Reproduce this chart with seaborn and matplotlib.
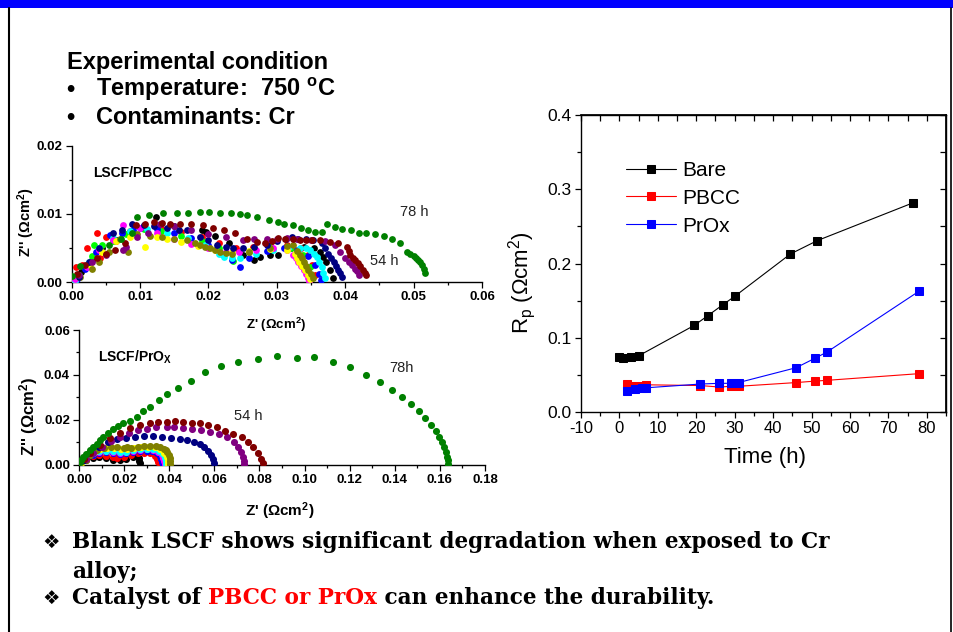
import matplotlib
matplotlib.use("Agg")
import matplotlib.pyplot as plt
import seaborn as sns
import numpy as np
from matplotlib.lines import Line2D
from matplotlib.patches import Rectangle
from matplotlib.ticker import MultipleLocator

# ---------------- Rp vs time ----------------
bare_time = [0, 1, 3, 5, 19.5, 23, 27, 30, 44.5, 51.5, 76.5]
bare_rp = [0.075, 0.073, 0.074, 0.076, 0.117, 0.130, 0.145, 0.156, 0.213, 0.231, 0.282]
coat_time = [2, 4, 6, 7, 21, 26, 29, 31, 46, 51, 54, 78]
pbcc_rp = [0.038, 0.035, 0.036, 0.037, 0.036, 0.034, 0.035, 0.035, 0.040, 0.042, 0.043, 0.052]
prox_rp = [0.028, 0.032, 0.033, 0.033, 0.038, 0.039, 0.039, 0.040, 0.060, 0.073, 0.081, 0.163]
rp_series = ["Bare", "PBCC", "PrOx"]
rp_xticks = [-10, 0, 10, 20, 30, 40, 50, 60, 70, 80]
rp_yticks = [0.0, 0.1, 0.2, 0.3, 0.4]

# ---------------- Nyquist spectra, LSCF/PBCC (Z', Z'') ----------------
pbcc_01 = [(0.0002, 0.0003), (0.0014, 0.0015), (0.0029, 0.0033), (0.0045, 0.0050), (0.0065, 0.0062),
           (0.0085, 0.0073), (0.0105, 0.0082), (0.0124, 0.0096), (0.0150, 0.0083), (0.0190, 0.0077),
           (0.0197, 0.0074), (0.0210, 0.0068), (0.0230, 0.0058), (0.0250, 0.0040), (0.0266, 0.0033),
           (0.0275, 0.0037), (0.0290, 0.0040), (0.0302, 0.0040), (0.0320, 0.0050), (0.0340, 0.0052),
           (0.0355, 0.0050), (0.0363, 0.0045), (0.0368, 0.0037), (0.0372, 0.0029), (0.0378, 0.0018),
           (0.0382, 0.0007)]
pbcc_02 = [(0.0001, 0.0002), (0.0007, 0.0023), (0.0015, 0.0025), (0.0023, 0.0050), (0.0037, 0.0072),
           (0.0041, 0.0035), (0.0050, 0.0066), (0.0065, 0.0060), (0.0085, 0.0075), (0.0105, 0.0082),
           (0.0130, 0.0080), (0.0160, 0.0074), (0.0190, 0.0066), (0.0215, 0.0058), (0.0240, 0.0050),
           (0.0265, 0.0052), (0.0290, 0.0055), (0.0315, 0.0055), (0.0335, 0.0050), (0.0345, 0.0040),
           (0.0352, 0.0025), (0.0356, 0.0010)]
pbcc_03 = [(0.0010, 0.0010), (0.0030, 0.0038), (0.0032, 0.0055), (0.0045, 0.0055), (0.0060, 0.0060),
           (0.0080, 0.0070), (0.0105, 0.0078), (0.0130, 0.0075), (0.0160, 0.0068), (0.0190, 0.0060),
           (0.0215, 0.0050), (0.0236, 0.0031), (0.0260, 0.0045), (0.0290, 0.0052), (0.0320, 0.0050),
           (0.0338, 0.0040), (0.0348, 0.0022), (0.0352, 0.0006)]
pbcc_04 = [(0.0008, 0.0005), (0.0020, 0.0020), (0.0035, 0.0045), (0.0056, 0.0069), (0.0073, 0.0072),
           (0.0090, 0.0076), (0.0100, 0.0080), (0.0125, 0.0078), (0.0150, 0.0072), (0.0175, 0.0065),
           (0.0200, 0.0055), (0.0220, 0.0042), (0.0235, 0.0032), (0.0246, 0.0023), (0.0260, 0.0036),
           (0.0285, 0.0046), (0.0310, 0.0050), (0.0330, 0.0048), (0.0345, 0.0038), (0.0356, 0.0025),
           (0.0362, 0.0012), (0.0365, 0.0003)]
pbcc_05 = [(0.0005, 0.0002), (0.0025, 0.0030), (0.0040, 0.0050), (0.0060, 0.0065), (0.0085, 0.0075),
           (0.0110, 0.0078), (0.0140, 0.0072), (0.0170, 0.0065), (0.0195, 0.0055), (0.0215, 0.0042),
           (0.0222, 0.0037), (0.0235, 0.0035), (0.0246, 0.0035), (0.0270, 0.0042), (0.0295, 0.0048),
           (0.0318, 0.0052), (0.0334, 0.0050), (0.0342, 0.0050), (0.0349, 0.0047), (0.0354, 0.0042),
           (0.0358, 0.0037), (0.0362, 0.0030), (0.0366, 0.0023), (0.0368, 0.0014), (0.0370, 0.0006)]
pbcc_06 = [(0.0005, 0.0005), (0.0022, 0.0022), (0.0040, 0.0048), (0.0060, 0.0062), (0.0075, 0.0084),
           (0.0100, 0.0080), (0.0125, 0.0072), (0.0150, 0.0063), (0.0175, 0.0056), (0.0200, 0.0050),
           (0.0225, 0.0045), (0.0245, 0.0044), (0.0270, 0.0047), (0.0295, 0.0050), (0.0315, 0.0048),
           (0.0324, 0.0040), (0.0328, 0.0035), (0.0331, 0.0030), (0.0335, 0.0024), (0.0339, 0.0018),
           (0.0342, 0.0012), (0.0345, 0.0007), (0.0347, 0.0002)]
pbcc_07 = [(0.0010, 0.0008), (0.0027, 0.0025), (0.0045, 0.0045), (0.0065, 0.0060), (0.0085, 0.0066),
           (0.0107, 0.0052), (0.0125, 0.0066), (0.0139, 0.0064), (0.0160, 0.0059), (0.0185, 0.0053),
           (0.0210, 0.0048), (0.0235, 0.0044), (0.0260, 0.0046), (0.0290, 0.0049), (0.0315, 0.0047),
           (0.0326, 0.0041), (0.0330, 0.0036), (0.0333, 0.0030), (0.0337, 0.0024), (0.0341, 0.0018),
           (0.0345, 0.0011), (0.0348, 0.0005)]
pbcc_08 = [(0.0012, 0.0008), (0.0029, 0.0020), (0.0040, 0.0030), (0.0055, 0.0045), (0.0070, 0.0063),
           (0.0083, 0.0045), (0.0095, 0.0070), (0.0115, 0.0068), (0.0132, 0.0066), (0.0149, 0.0064),
           (0.0168, 0.0062), (0.0180, 0.0058), (0.0188, 0.0055), (0.0195, 0.0052), (0.0202, 0.0050),
           (0.0210, 0.0047), (0.0217, 0.0045), (0.0225, 0.0043), (0.0234, 0.0042), (0.0260, 0.0045),
           (0.0290, 0.0050), (0.0315, 0.0053), (0.0324, 0.0055), (0.0330, 0.0046), (0.0334, 0.0040),
           (0.0337, 0.0035), (0.0339, 0.0030), (0.0343, 0.0024), (0.0346, 0.0018), (0.0350, 0.0012),
           (0.0353, 0.0007)]
pbcc_09 = [(0.0010, 0.0008), (0.0025, 0.0030), (0.0040, 0.0050), (0.0061, 0.0072), (0.0073, 0.0077),
           (0.0088, 0.0085), (0.0105, 0.0084), (0.0120, 0.0082), (0.0139, 0.0079), (0.0157, 0.0076),
           (0.0168, 0.0077), (0.0188, 0.0067), (0.0200, 0.0062), (0.0212, 0.0055), (0.0225, 0.0052),
           (0.0236, 0.0050), (0.0250, 0.0050), (0.0266, 0.0052), (0.0285, 0.0055), (0.0300, 0.0060),
           (0.0314, 0.0064), (0.0322, 0.0067), (0.0331, 0.0064), (0.0342, 0.0063), (0.0353, 0.0062),
           (0.0366, 0.0057), (0.0371, 0.0050), (0.0375, 0.0042), (0.0379, 0.0036), (0.0383, 0.0030),
           (0.0387, 0.0024), (0.0390, 0.0018), (0.0393, 0.0013), (0.0395, 0.0008)]
pbcc_10 = [(0.0010, 0.0010), (0.0030, 0.0030), (0.0050, 0.0040), (0.0075, 0.0048), (0.0080, 0.0052),
           (0.0095, 0.0067), (0.0112, 0.0072), (0.0129, 0.0086), (0.0150, 0.0082), (0.0175, 0.0077),
           (0.0200, 0.0071), (0.0225, 0.0066), (0.0250, 0.0062), (0.0266, 0.0063), (0.0285, 0.0064),
           (0.0300, 0.0064), (0.0315, 0.0065), (0.0330, 0.0064), (0.0350, 0.0062), (0.0370, 0.0060),
           (0.0385, 0.0055), (0.0392, 0.0045), (0.0400, 0.0035), (0.0405, 0.0030), (0.0410, 0.0025),
           (0.0414, 0.0020), (0.0417, 0.0016), (0.0420, 0.0010)]
pbcc_54h = [(0.0008, 0.0012), (0.0020, 0.0025), (0.0037, 0.0035), (0.0050, 0.0042), (0.0063, 0.0048),
            (0.0078, 0.0058), (0.0094, 0.0084), (0.0107, 0.0086), (0.0120, 0.0088), (0.0132, 0.0087),
            (0.0144, 0.0086), (0.0158, 0.0086), (0.0175, 0.0085), (0.0192, 0.0084), (0.0207, 0.0079),
            (0.0222, 0.0077), (0.0239, 0.0072), (0.0256, 0.0064), (0.0271, 0.0059), (0.0283, 0.0057),
            (0.0293, 0.0060), (0.0302, 0.0065), (0.0312, 0.0063), (0.0324, 0.0063), (0.0334, 0.0062),
            (0.0343, 0.0062), (0.0351, 0.0062), (0.0363, 0.0062), (0.0378, 0.0059), (0.0390, 0.0057),
            (0.0402, 0.0052), (0.0405, 0.0046), (0.0407, 0.0040), (0.0411, 0.0036), (0.0414, 0.0033),
            (0.0418, 0.0028), (0.0422, 0.0024), (0.0426, 0.0018), (0.0429, 0.0013), (0.0431, 0.0010)]
pbcc_78h = [(0.0001, 0.0009), (0.0012, 0.0024), (0.0054, 0.0055), (0.0072, 0.0063), (0.0088, 0.0072),
            (0.0095, 0.0095), (0.0113, 0.0098), (0.0133, 0.0101), (0.0154, 0.0102), (0.0170, 0.0102),
            (0.0187, 0.0103), (0.0201, 0.0103), (0.0217, 0.0102), (0.0233, 0.0101), (0.0246, 0.0100),
            (0.0256, 0.0098), (0.0271, 0.0096), (0.0289, 0.0091), (0.0301, 0.0088), (0.0311, 0.0086),
            (0.0323, 0.0084), (0.0335, 0.0079), (0.0346, 0.0076), (0.0356, 0.0074), (0.0366, 0.0073),
            (0.0374, 0.0085), (0.0385, 0.0081), (0.0396, 0.0078), (0.0408, 0.0077), (0.0420, 0.0072),
            (0.0431, 0.0072), (0.0444, 0.0070), (0.0457, 0.0068), (0.0469, 0.0063), (0.0480, 0.0057),
            (0.0490, 0.0045), (0.0495, 0.0042), (0.0500, 0.0039), (0.0504, 0.0036), (0.0507, 0.0033),
            (0.0510, 0.0029), (0.0512, 0.0025), (0.0515, 0.0019), (0.0517, 0.0014)]

# ---------------- Nyquist spectra, LSCF/PrOx (Z', Z'') ----------------
prox_01 = [(0.0005, 0.0003), (0.0030, 0.0020), (0.0060, 0.0032), (0.0090, 0.0035), (0.0120, 0.0030),
           (0.0150, 0.0022), (0.0180, 0.0020), (0.0210, 0.0025), (0.0240, 0.0035), (0.0258, 0.0040),
           (0.0265, 0.0030), (0.0268, 0.0018), (0.0270, 0.0008)]
prox_02 = [(0.0005, 0.0004), (0.0030, 0.0025), (0.0060, 0.0037), (0.0090, 0.0042), (0.0120, 0.0040),
           (0.0150, 0.0033), (0.0170, 0.0028), (0.0200, 0.0033), (0.0230, 0.0042), (0.0260, 0.0050),
           (0.0290, 0.0053), (0.0315, 0.0050), (0.0335, 0.0040), (0.0345, 0.0025), (0.0350, 0.0010)]
prox_03 = [(0.0005, 0.0005), (0.0030, 0.0030), (0.0060, 0.0045), (0.0090, 0.0052), (0.0120, 0.0055),
           (0.0150, 0.0052), (0.0180, 0.0048), (0.0210, 0.0050), (0.0240, 0.0056), (0.0270, 0.0060),
           (0.0300, 0.0062), (0.0325, 0.0060), (0.0345, 0.0052), (0.0358, 0.0040), (0.0365, 0.0025),
           (0.0370, 0.0010), (0.0372, 0.0003)]
prox_04 = [(0.0005, 0.0006), (0.0030, 0.0033), (0.0060, 0.0050), (0.0090, 0.0058), (0.0120, 0.0060),
           (0.0150, 0.0057), (0.0180, 0.0053), (0.0210, 0.0055), (0.0240, 0.0061), (0.0270, 0.0066),
           (0.0300, 0.0068), (0.0330, 0.0066), (0.0352, 0.0058), (0.0366, 0.0045), (0.0374, 0.0030),
           (0.0379, 0.0015), (0.0381, 0.0003)]
prox_05 = [(0.0005, 0.0006), (0.0030, 0.0035), (0.0060, 0.0052), (0.0090, 0.0060), (0.0120, 0.0062),
           (0.0150, 0.0059), (0.0180, 0.0055), (0.0210, 0.0058), (0.0240, 0.0064), (0.0270, 0.0069),
           (0.0300, 0.0071), (0.0330, 0.0069), (0.0356, 0.0060), (0.0371, 0.0047), (0.0380, 0.0031),
           (0.0385, 0.0015), (0.0387, 0.0003)]
prox_06 = [(0.0008, 0.0008), (0.0035, 0.0038), (0.0065, 0.0058), (0.0095, 0.0070), (0.0125, 0.0074),
           (0.0155, 0.0073), (0.0185, 0.0070), (0.0215, 0.0071), (0.0245, 0.0076), (0.0275, 0.0080),
           (0.0305, 0.0081), (0.0335, 0.0078), (0.0360, 0.0070), (0.0377, 0.0054), (0.0388, 0.0035),
           (0.0394, 0.0016), (0.0396, 0.0003)]
prox_07 = [(0.0010, 0.0010), (0.0030, 0.0020), (0.0050, 0.0045), (0.0080, 0.0065), (0.0110, 0.0075),
           (0.0140, 0.0078), (0.0170, 0.0077), (0.0200, 0.0074), (0.0211, 0.0080), (0.0230, 0.0075),
           (0.0260, 0.0080), (0.0290, 0.0083), (0.0315, 0.0085), (0.0340, 0.0082), (0.0360, 0.0078),
           (0.0375, 0.0072), (0.0385, 0.0064), (0.0392, 0.0055), (0.0398, 0.0043), (0.0402, 0.0030),
           (0.0404, 0.0015), (0.0405, 0.0003)]
prox_08 = [(0.0020, 0.0020), (0.0050, 0.0050), (0.0090, 0.0080), (0.0130, 0.0100), (0.0170, 0.0113),
           (0.0210, 0.0121), (0.0250, 0.0125), (0.0290, 0.0127), (0.0330, 0.0126), (0.0370, 0.0123),
           (0.0410, 0.0119), (0.0450, 0.0114), (0.0480, 0.0110), (0.0510, 0.0102), (0.0535, 0.0092),
           (0.0555, 0.0080), (0.0572, 0.0062), (0.0585, 0.0043), (0.0595, 0.0025), (0.0600, 0.0008)]
prox_09 = [(0.0030, 0.0025), (0.0060, 0.0050), (0.0100, 0.0080), (0.0140, 0.0105), (0.0180, 0.0125),
           (0.0220, 0.0141), (0.0260, 0.0153), (0.0300, 0.0161), (0.0340, 0.0166), (0.0389, 0.0167),
           (0.0420, 0.0166), (0.0460, 0.0165), (0.0500, 0.0160), (0.0540, 0.0153), (0.0580, 0.0145),
           (0.0620, 0.0135), (0.0655, 0.0122), (0.0685, 0.0103), (0.0705, 0.0080), (0.0718, 0.0058),
           (0.0726, 0.0035), (0.0730, 0.0015), (0.0732, 0.0003)]
prox_54h = [(0.0020, 0.0025), (0.0049, 0.0051), (0.0093, 0.0088), (0.0137, 0.0118), (0.0182, 0.0143),
            (0.0226, 0.0162), (0.0270, 0.0177), (0.0315, 0.0187), (0.0352, 0.0192), (0.0389, 0.0192),
            (0.0426, 0.0193), (0.0462, 0.0192), (0.0500, 0.0187), (0.0536, 0.0184), (0.0573, 0.0177),
            (0.0610, 0.0167), (0.0647, 0.0151), (0.0684, 0.0137), (0.0721, 0.0125), (0.0750, 0.0102),
            (0.0773, 0.0077), (0.0792, 0.0051), (0.0805, 0.0024), (0.0814, 0.0006)]
prox_78h = [(0.0004, 0.0012), (0.0010, 0.0022), (0.0019, 0.0036), (0.0030, 0.0048), (0.0049, 0.0065),
            (0.0064, 0.0080), (0.0078, 0.0094), (0.0093, 0.0108), (0.0108, 0.0122), (0.0130, 0.0140),
            (0.0152, 0.0158), (0.0174, 0.0173), (0.0196, 0.0187), (0.0226, 0.0196), (0.0256, 0.0214),
            (0.0282, 0.0239), (0.0315, 0.0258), (0.0356, 0.0288), (0.0391, 0.0315), (0.0440, 0.0340),
            (0.0495, 0.0374), (0.0559, 0.0412), (0.0628, 0.0440), (0.0706, 0.0457), (0.0795, 0.0471),
            (0.0877, 0.0484), (0.0965, 0.0477), (0.1043, 0.0481), (0.1125, 0.0459), (0.1203, 0.0434),
            (0.1271, 0.0400), (0.1334, 0.0367), (0.1389, 0.0333), (0.1433, 0.0300), (0.1471, 0.0269),
            (0.1507, 0.0239), (0.1535, 0.0208), (0.1562, 0.0176), (0.1581, 0.0150), (0.1596, 0.0125),
            (0.1608, 0.0102), (0.1618, 0.0080), (0.1626, 0.0058), (0.1630, 0.0036), (0.1634, 0.0020),
            (0.1637, 0.0003)]

pbcc_spectra = [pbcc_01, pbcc_02, pbcc_03, pbcc_04, pbcc_05, pbcc_06, pbcc_07,
                pbcc_08, pbcc_09, pbcc_10, pbcc_54h, pbcc_78h]
pbcc_colors = ["#000000", "#ff0000", "#00ff00", "#0000ff", "#00ffff", "#ff00ff", "#ffff00",
               "#808000", "#000080", "#800080", "#800000", "#008000"]
prox_spectra = [prox_01, prox_02, prox_03, prox_04, prox_05, prox_06, prox_07,
                prox_08, prox_09, prox_54h, prox_78h]
prox_colors = ["#000000", "#ff0000", "#0000ff", "#ff00ff", "#00ffff", "#ffff00", "#808000",
               "#000080", "#800080", "#800000", "#008000"]

pbcc_xticks = [0.00, 0.01, 0.02, 0.03, 0.04, 0.05, 0.06]
pbcc_yticks = [0.00, 0.01, 0.02]
prox_xticks = [0.00, 0.02, 0.04, 0.06, 0.08, 0.10, 0.12, 0.14, 0.16, 0.18]
prox_yticks = [0.00, 0.02, 0.04, 0.06]

# ---------------- style ----------------
sns.set_theme(style="ticks")
plt.rcParams["font.family"] = ["Liberation Sans", "DejaVu Sans"]
plt.rcParams["mathtext.fontset"] = "custom"
plt.rcParams["mathtext.rm"] = "Liberation Sans"
plt.rcParams["mathtext.bf"] = "Liberation Sans:bold"
plt.rcParams["mathtext.it"] = "Liberation Sans:italic"
plt.rcParams["axes.edgecolor"] = "black"
plt.rcParams["axes.labelcolor"] = "black"
plt.rcParams["text.color"] = "black"
plt.rcParams["xtick.color"] = "black"
plt.rcParams["ytick.color"] = "black"

W, H = 954, 632
fig = plt.figure(figsize=(W / 100, H / 100), dpi=100)
fig.patch.set_facecolor("white")


def fx(px):
    return px / W


def fy(py):
    return 1 - py / H


def axes_px(left, top, right, bottom):
    return fig.add_axes([fx(left), fy(bottom), (right - left) / W, (bottom - top) / H])


# slide frame: blue title band and side rules
fig.add_artist(Rectangle((0, fy(8)), 1, 8 / H, transform=fig.transFigure,
                         facecolor="#0000ff", edgecolor="none"))
fig.add_artist(Line2D([fx(9), fx(9)], [0, fy(8)], transform=fig.transFigure,
                      color="black", lw=1.5))
fig.add_artist(Line2D([fx(951), fx(951)], [0, fy(8)], transform=fig.transFigure,
                      color="black", lw=1.2))

# experimental conditions
head_kw = dict(fontsize=17, fontweight="bold", va="center", ha="left", color="black",
               family=["Liberation Sans", "DejaVu Sans"])
fig.text(fx(67), fy(62), "Experimental condition", **head_kw)
fig.text(fx(66), fy(89), "\u2022", **head_kw)
fig.text(fx(96), fy(89), "Temperature:  750 $^{\\mathbf{o}}$C", **head_kw)
fig.text(fx(66), fy(117), "\u2022", **head_kw)
fig.text(fx(96), fy(117), "Contaminants: Cr", **head_kw)


def nyquist(ax, spectra, colors, xticks, yticks, xminor, yminor, size):
    for pts, col in zip(spectra, colors):
        xs, ys = zip(*pts)
        sns.scatterplot(x=list(xs), y=list(ys), color=col, s=size, linewidth=0,
                        ax=ax, legend=False, zorder=3)
    ax.set_xlim(xticks[0], xticks[-1])
    ax.set_ylim(yticks[0], yticks[-1])
    ax.set_xticks(xticks)
    ax.set_xticklabels([f"{t:.2f}" for t in xticks], fontweight="bold", fontsize=9.5)
    ax.set_yticks(yticks)
    ax.set_yticklabels([f"{t:.2f}" for t in yticks], fontweight="bold", fontsize=9.5)
    ax.xaxis.set_minor_locator(MultipleLocator(xminor))
    ax.yaxis.set_minor_locator(MultipleLocator(yminor))
    ax.tick_params(which="major", direction="out", length=4.5, width=0.9, pad=2)
    ax.tick_params(which="minor", direction="out", length=2.5, width=0.9)
    for side in ("top", "right"):
        ax.spines[side].set_visible(False)
    for side in ("left", "bottom"):
        ax.spines[side].set_linewidth(1.0)
    ax.set_facecolor("none")


# LSCF/PBCC impedance spectra
ax1 = axes_px(71.7, 145.7, 482, 282.3)
nyquist(ax1, pbcc_spectra, pbcc_colors, pbcc_xticks, pbcc_yticks, 0.005, 0.005, 24)
ax1.text(fx(93), fy(173), "LSCF/PBCC", transform=fig.transFigure, fontsize=10,
         fontweight="bold", va="center", ha="left")
ax1.text(fx(400), fy(212), "78 h", transform=fig.transFigure, fontsize=10.5,
         color="#222222", va="center", ha="left")
ax1.text(fx(370), fy(261), "54 h", transform=fig.transFigure, fontsize=10.5,
         color="#222222", va="center", ha="left")
ax1.set_xlabel("Z' (\u03a9cm$^{\\mathbf{2}}$)", fontsize=9.5, fontweight="bold",
               va="center", ha="center")
ax1.xaxis.set_label_coords(fx(276), fy(325), transform=fig.transFigure)
ax1.set_ylabel("Z'' (\u03a9cm$^{\\mathbf{2}}$)", fontsize=10.5, fontweight="bold",
               va="center", ha="center")
ax1.yaxis.set_label_coords(fx(26), fy(222), transform=fig.transFigure)

# LSCF/PrOx impedance spectra
ax2 = axes_px(79, 330, 485, 464.7)
nyquist(ax2, prox_spectra, prox_colors, prox_xticks, prox_yticks, 0.01, 0.01, 26)
ax2.text(fx(98), fy(357), "LSCF/PrO$_{\\mathbf{X}}$", transform=fig.transFigure, fontsize=10,
         fontweight="bold", va="center", ha="left")
ax2.text(fx(389), fy(368), "78h", transform=fig.transFigure, fontsize=10.5,
         color="#222222", va="center", ha="left")
ax2.text(fx(234), fy(416), "54 h", transform=fig.transFigure, fontsize=10.5,
         color="#222222", va="center", ha="left")
ax2.set_xlabel("Z' (\u03a9cm$^{\\mathbf{2}}$)", fontsize=11, fontweight="bold",
               va="center", ha="center")
ax2.xaxis.set_label_coords(fx(280), fy(511), transform=fig.transFigure)
ax2.set_ylabel("Z'' (\u03a9cm$^{\\mathbf{2}}$)", fontsize=12, fontweight="bold",
               va="center", ha="center")
ax2.yaxis.set_label_coords(fx(29), fy(416), transform=fig.transFigure)

# polarization resistance vs time
ax3 = axes_px(581, 115, 946, 412.3)
rp_data = [(bare_time, bare_rp, "#000000"), (coat_time, pbcc_rp, "#ff0000"),
           (coat_time, prox_rp, "#0000ff")]
for (t, r, col), name in zip(rp_data, rp_series):
    sns.lineplot(x=t, y=r, color=col, marker="s", markersize=5.5, linewidth=0.8,
                 markeredgecolor=col, ax=ax3, label=name, sort=False)
ax3.set_xlim(-10, 85)
ax3.set_ylim(0, 0.4)
ax3.set_xticks(rp_xticks)
ax3.set_xticklabels([str(v) for v in rp_xticks], fontsize=12)
ax3.set_yticks(rp_yticks)
ax3.set_yticklabels([f"{v:.1f}" for v in rp_yticks], fontsize=12.5)
ax3.xaxis.set_minor_locator(MultipleLocator(5))
ax3.yaxis.set_minor_locator(MultipleLocator(0.05))
ax3.tick_params(which="major", direction="out", length=4.5, width=0.9, pad=2)
ax3.tick_params(which="minor", direction="out", length=3, width=0.9)
for sp in ax3.spines.values():
    sp.set_linewidth(1.0)
sec_x = ax3.secondary_xaxis("top")
top_ticks = np.arange(-10, 85, 5)
sec_x.set_xticks(top_ticks, labels=[""] * len(top_ticks))
sec_x.tick_params(direction="in", length=4, width=0.9)
sec_y = ax3.secondary_yaxis("right")
right_ticks = np.arange(0, 0.45, 0.05)
sec_y.set_yticks(right_ticks, labels=[""] * len(right_ticks))
sec_y.tick_params(direction="in", length=4, width=0.9)
ax3.set_xlabel("Time (h)", fontsize=16, va="center", ha="center")
ax3.xaxis.set_label_coords(fx(765), fy(458), transform=fig.transFigure)
ax3.set_ylabel("R$_{\\mathrm{p}}$ (\u03a9cm$^{\\mathrm{2}}$)", fontsize=16,
               va="center", ha="center")
ax3.yaxis.set_label_coords(fx(522), fy(283), transform=fig.transFigure)
ax3.legend(loc="upper left", bbox_to_anchor=(fx(626), fy(161)),
           bbox_transform=fig.transFigure, frameon=False, fontsize=15,
           handlelength=2.4, handletextpad=0.3, labelspacing=0.42,
           borderpad=0, borderaxespad=0, numpoints=1)

# conclusions
note_kw = dict(fontsize=15.6, fontweight="bold", va="center", ha="left",
               family=["DejaVu Serif"])
dia_kw = dict(fontsize=14, va="center", ha="left", color="black", family=["DejaVu Sans"])
fig.text(fx(42), fy(542), "\u2756", **dia_kw)
fig.text(fx(72), fy(542), "Blank LSCF shows significant degradation when exposed to Cr",
         color="black", **note_kw)
fig.text(fx(72), fy(572), "alloy;", color="black", **note_kw)
fig.text(fx(42), fy(598), "\u2756", **dia_kw)
renderer = fig.canvas.get_renderer()
x_cursor = 72
for chunk, col in [("Catalyst of ", "black"), ("PBCC or PrOx", "#ff0000"),
                   (" can enhance the durability.", "black")]:
    t = fig.text(fx(x_cursor), fy(598), chunk, color=col, **note_kw)
    bb = t.get_window_extent(renderer)
    x_cursor = bb.x1

fig.savefig("out.png", dpi=100, facecolor="white")
